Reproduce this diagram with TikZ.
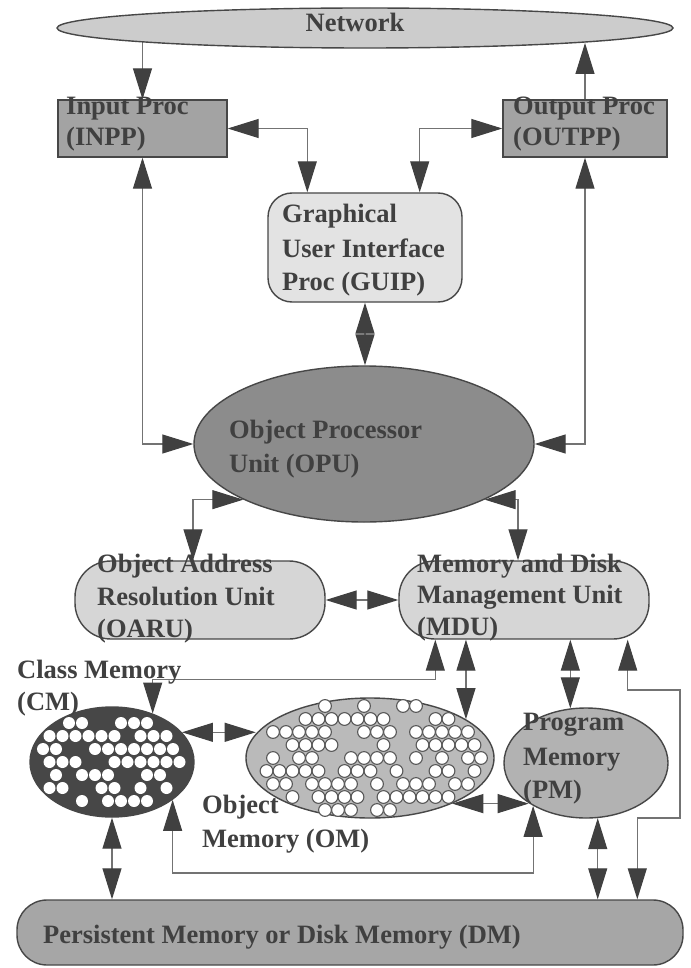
\documentclass[tikz,border=0pt]{standalone}
\usepackage{fontspec}
\setmainfont{Liberation Serif}
\usetikzlibrary{shapes.geometric,arrows.meta,calc}
\pgfdeclarelayer{bg}
\pgfsetlayers{bg,main}
\tikzset{
  shp/.style={draw=black!72, line width=1.4pt, inner sep=0pt},
  lbl/.style={anchor=base west, inner sep=0pt, font=\bfseries\fontsize{26.5}{31}\selectfont, text=black!75},
  con/.style={draw=black!55, line width=1.1pt},
  dbl/.style={con, arrows={Triangle[length=31pt,width=19pt,color=black!75]-Triangle[length=31pt,width=19pt,color=black!75]}},
  one/.style={con, arrows={-Triangle[length=31pt,width=19pt,color=black!75]}},
  omdot/.style={fill=white, draw=black!65, line width=1.1pt},
  cmdot/.style={fill=white},
}
\begin{document}
\begin{tikzpicture}[x=1pt,y=-1pt]
\begin{pgfonlayer}{bg}
\fill[white] (0,0) rectangle (690,968);
\end{pgfonlayer}
\useasboundingbox (0,0) rectangle (690,968);

% shapes
\node[shp, ellipse, fill=black!20, minimum width=616pt, minimum height=40pt] (net) at (365,28) {};
\node[shp, rectangle, fill=black!36, minimum width=169pt, minimum height=57pt] (inpp) at (142.5,128.5) {};
\node[shp, rectangle, fill=black!36, minimum width=164pt, minimum height=57pt] (outpp) at (585,128.5) {};
\node[shp, rectangle, rounded corners=24pt, fill=black!11, minimum width=194pt, minimum height=109pt] (guip) at (365,247.5) {};
\node[shp, ellipse, fill=black!45, minimum width=340pt, minimum height=156pt] (opu) at (364,444) {};
\node[shp, rectangle, rounded corners=36pt, fill=black!16, minimum width=250pt, minimum height=78pt] (oaru) at (200,600) {};
\node[shp, rectangle, rounded corners=36pt, fill=black!16, minimum width=250pt, minimum height=78pt] (mdu) at (524,600) {};
\node[shp, ellipse, fill=black!72, minimum width=164pt, minimum height=110pt] (cm) at (112,762) {};
\node[shp, ellipse, fill=black!27, minimum width=248pt, minimum height=120pt] (om) at (370,758) {};
\node[shp, ellipse, fill=black!30, minimum width=164pt, minimum height=110pt] (pm) at (586,763) {};
\node[shp, rectangle, rounded corners=30pt, fill=black!35, minimum width=666pt, minimum height=65pt] (dm) at (350,932.5) {};

% dots
\pgfmathsetseed{23}
\foreach \r in {0,...,8}{
  \foreach \c in {0,...,19}{
    \pgfmathsetmacro\xx{247+\c*13+mod(\r,2)*6.5}
    \pgfmathsetmacro\yy{706+\r*13}
    \pgfmathtruncatemacro\ok{and(((\xx-370)/117)^2+((\yy-758)/57)^2<1, rnd<0.66)}
    \ifnum\ok=1 \path[omdot] (\xx,\yy) circle[radius=6.4pt]; \fi
  }
}
\foreach \r in {0,...,8}{
  \foreach \c in {0,...,13}{
    \pgfmathsetmacro\xx{30+\c*13+mod(\r+1,2)*6.5}
    \pgfmathsetmacro\yy{710+\r*13}
    \pgfmathtruncatemacro\ok{and(((\xx-112)/76)^2+((\yy-762)/50)^2<1, rnd<0.62)}
    \ifnum\ok=1 \fill[cmdot] (\xx,\yy) circle[radius=6pt]; \fi
  }
}

% connectors
\begin{pgfonlayer}{bg}
\draw[one] (net.center -| inpp.north) -- (inpp.north);
\end{pgfonlayer}
\draw[one] (outpp.north) -- (outpp.north |- net.-4);
\draw[dbl] (inpp.east) -| ($(guip.north west)+(40,0)$);
\draw[dbl] (outpp.west) -| ($(guip.north east)+(-43,0)$);
\draw[dbl] (inpp.south) |- (opu.west);
\draw[dbl] (outpp.south) |- (opu.east);
\draw[dbl] (guip.south) -- (guip.south |- opu.north);
\draw[dbl] (opu.south west) -| ($(oaru.north)+(-7,0)$);
\draw[dbl] (opu.south east) -| ($(mdu.north)+(-6,0)$);
\draw[dbl] (oaru.east) -- (mdu.west);
\draw[dbl] (cm.50) |- ($(mdu.south west)+(37,40)$) -- ($(mdu.south west)+(37,0)$);
\draw[dbl] (om.22) -- (om.22 |- mdu.south);
\draw[dbl] (pm.106) -- (pm.106 |- mdu.south);
\coordinate (r1) at (680,690);
\coordinate (r2) at (680,818);
\draw[dbl] ($(mdu.south east)+(-22,0)$) |- (r1) -- (r2) -| ($(dm.north west)+(621,0)$);
\draw[dbl] (cm.23) -- (cm.23 -| om.168);
\draw[dbl] (om.-29) -- (om.-29 -| pm.-145);
\coordinate (bl) at (0,873);
\draw[dbl] (cm.-32) -- (cm.-32 |- bl) -- (pm.-141 |- bl) -- (pm.-141);
\draw[dbl] (cm.south) -- (cm.south |- dm.north);
\draw[dbl] (pm.-78) -- (pm.-78 |- dm.north);

% labels
\node[lbl, anchor=base] (t-net) at (355,32) {Network};
\node[lbl] (t-in1) at (66,115) {Input Proc};
\node[lbl] (t-in2) at (66,146) {(INPP)};
\node[lbl] (t-out1) at (513,115) {Output Proc};
\node[lbl] (t-out2) at (513,146) {(OUTPP)};
\node[lbl] (t-gu1) at (282,223) {Graphical};
\node[lbl] (t-gu2) at (282,257) {User Interface};
\node[lbl] (t-gu3) at (282,290) {Proc (GUIP)};
\node[lbl] (t-op1) at (229,438) {Object Processor};
\node[lbl] (t-op2) at (229,472) {Unit (OPU)};
\node[lbl] (t-oa1) at (97,572) {Object Address};
\node[lbl] (t-oa2) at (97,605) {Resolution Unit};
\node[lbl] (t-oa3) at (97,637) {(OARU)};
\node[lbl] (t-md1) at (417,572) {Memory and Disk};
\node[lbl] (t-md2) at (417,603) {Management Unit};
\node[lbl] (t-md3) at (417,635) {(MDU)};
\node[lbl] (t-cm1) at (17,678) {Class Memory};
\node[lbl] (t-cm2) at (17,710) {(CM)};
\node[lbl] (t-om1) at (202,813) {Object};
\node[lbl] (t-om2) at (202,847) {Memory (OM)};
\node[lbl] (t-pm1) at (523,730) {Program};
\node[lbl] (t-pm2) at (523,765) {Memory};
\node[lbl] (t-pm3) at (523,798) {(PM)};
\node[lbl] (t-dm) at (43,943) {Persistent Memory or Disk Memory (DM)};
\end{tikzpicture}
\end{document}
